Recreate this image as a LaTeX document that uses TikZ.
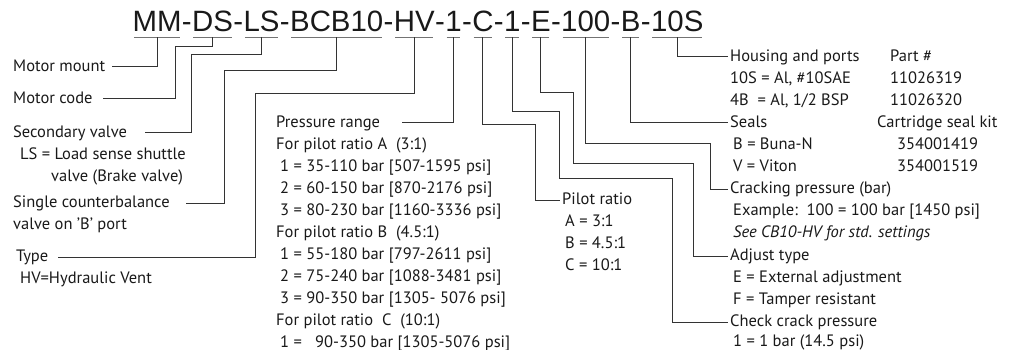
\documentclass[tikz,border=0pt]{standalone}
\usepackage{fontspec}
\setmainfont{PT Sans}
\newfontfamily\codefont{Liberation Sans}
\usetikzlibrary{positioning}

\tikzset{
  seg/.style={inner sep=0pt, anchor=base west, text=black!90, font=\codefont\fontsize{29.4}{30}\selectfont},
  uline/.style={draw=black!55, line width=1.3pt},
  lead/.style={draw=black!80, line width=1pt},
  lbl/.style={anchor=west, inner xsep=2pt, inner ysep=0pt, text height=12pt, text depth=3pt, text=black!90, font=\fontsize{16.5}{22}\selectfont},
}

\begin{document}
\begin{tikzpicture}[x=1pt,y=-1pt]
\useasboundingbox (0,0) rectangle (1014,350);
% order code
\node[seg] (start) at (131,32) {};
\def\prev{start}
\foreach \n/\t in {mm/MM,h1/-,ds/DS,h2/-,ls/LS,h3/-,bcb/BCB10,h4/-,hv/HV,h5/-,rng/1,h6/-,pil/C,h7/-,chk/1,h8/-,adj/E,h9/-,crk/100,h10/-,sea/B,h11/-,hou/10S}{
  \node[seg] (\n) at (\prev.base east) {\t};
  \xdef\prev{\n}
}
\foreach \n in {mm,ds,ls,bcb,hv,rng,pil,chk,adj,crk,sea,hou}
  \draw[uline] ([xshift=1.5pt,yshift=-5.5pt]\n.base west) -- ([xshift=-1.5pt,yshift=-5.5pt]\n.base east);

% left column
\node[lbl] (mount) at (11,67) {Motor mount};
\node[lbl] (code) at (11,99) {Motor code};
\node[lbl] (second) at (11,133) {Secondary valve};
\node[lbl] (second1) at (18,155) {LS = Load sense shuttle};
\node[lbl] (second2) at (49,177) {valve (Brake valve)};
\node[lbl] (single) at (11,203) {Single counterbalance};
\node[lbl] (single1) at (11,225) {valve on 'B' port};
\node[lbl] (type) at (14,257) {Type};
\node[lbl] (type1) at (18,279) {HV=Hydraulic Vent};

% pressure range
\node[lbl] (range) at (274,123) {Pressure range};
\node[lbl] (ra) at (274,145) {For pilot ratio A\ \ (3:1)};
\node[lbl] (ra1) at (278,167) {1 = 35-110 bar [507-1595 psi]};
\node[lbl] (ra2) at (278,189) {2 = 60-150 bar [870-2176 psi]};
\node[lbl] (ra3) at (278,211) {3 = 80-230 bar [1160-3336 psi]};
\node[lbl] (rb) at (274,233) {For pilot ratio B\ \ (4.5:1)};
\node[lbl] (rb1) at (278,255) {1 = 55-180 bar [797-2611 psi]};
\node[lbl] (rb2) at (278,277) {2 = 75-240 bar [1088-3481 psi]};
\node[lbl] (rb3) at (278,299) {3 = 90-350 bar [1305- 5076 psi]};
\node[lbl] (rc) at (274,321) {For pilot ratio\ \ C\ \ (10:1)};
\node[lbl] (rc1) at (278,343) {1 =\ \ \ 90-350 bar [1305-5076 psi]};

% pilot ratio
\node[lbl] (pilot) at (560,200) {Pilot ratio};
\node[lbl] (pa) at (563,222) {A = 3:1};
\node[lbl] (pb) at (563,244) {B = 4.5:1};
\node[lbl] (pc) at (563,266) {C = 10:1};

% right column
\node[lbl] (housing) at (728,57) {Housing and ports};
\node[lbl] (hs1) at (728,79) {10S = Al, \#10SAE};
\node[lbl] (hs2) at (728,101) {4B\ \ = Al, 1/2 BSP};
\node[lbl] (part) at (888,57) {Part \#};
\node[lbl] (part1) at (888,79) {11026319};
\node[lbl] (part2) at (888,101) {11026320};
\node[lbl] (seals) at (728,123) {Seals};
\node[lbl] (sl1) at (731,145) {B = Buna-N};
\node[lbl] (sl2) at (731,167) {V = Viton};
\node[lbl] (kit) at (875,123) {Cartridge seal kit};
\node[lbl] (kit1) at (895,145) {354001419};
\node[lbl] (kit2) at (895,167) {354001519};
\node[lbl] (crack) at (728,189) {Cracking pressure (bar)};
\node[lbl] (cr1) at (731,211) {Example:\ \ 100 = 100 bar [1450 psi]};
\node[lbl] (cr2) at (731,233) {\itshape See CB10-HV for std. settings};
\node[lbl] (adjust) at (728,256) {Adjust type};
\node[lbl] (ad1) at (731,278) {E = External adjustment};
\node[lbl] (ad2) at (731,300) {F = Tamper resistant};
\node[lbl] (check) at (728,322) {Check crack pressure};
\node[lbl] (ck1) at (731,342) {1 = 1 bar (14.5 psi)};

% leaders
\draw[lead] ([yshift=-5.5pt]mm.base) |- ([xshift=5pt]mount.east);
\draw[lead] ([yshift=-5.5pt]ds.base) |- (175,47) |- ([xshift=8pt]code.east);
\draw[lead] ([yshift=-5.5pt]ls.base) |- (191,55) |- ([xshift=16pt]second.east);
\draw[lead] ([yshift=-5.5pt]bcb.base) |- (224,71) |- ([xshift=14pt]single.east);
\draw[lead] ([yshift=-5.5pt]hv.base) |- (255,94) |- ([xshift=8pt]type.east);
\draw[lead] ([yshift=-5.5pt]rng.base) |- ([xshift=20pt]range.east);
\draw[lead] ([yshift=-5.5pt]pil.base) |- (535,125) |- (pilot.west);
\draw[lead] ([yshift=-5.5pt]chk.base) |- (559,112) |- (672,178) |- (check.west);
\draw[lead] ([yshift=-5.5pt]adj.base) |- (573,93) |- (693,163) |- (adjust.west);
\draw[lead] ([yshift=-5.5pt]crk.base) |- (710,143) |- (crack.west);
\draw[lead] ([yshift=-5.5pt]sea.base) |- (seals.west);
\draw[lead] ([yshift=-5.5pt]hou.base) |- (housing.west);
\end{tikzpicture}
\end{document}
